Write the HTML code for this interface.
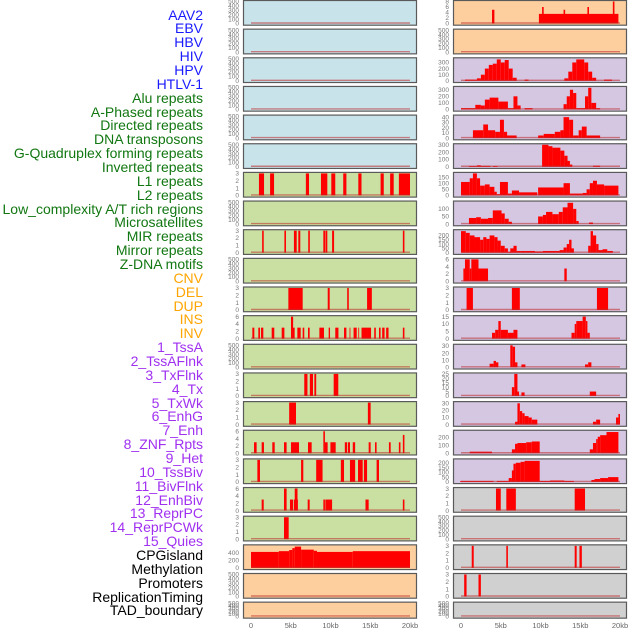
<!DOCTYPE html>
<html><head><meta charset="utf-8"><style>
html,body{margin:0;padding:0;background:#fff;}
body{width:630px;height:630px;position:relative;overflow:hidden;font-family:"Liberation Sans",sans-serif;}
.lab{position:absolute;right:427px;font-size:14px;line-height:14px;white-space:nowrap;}
</style></head><body>
<div id="labels"></div>
<svg id="chart" width="630" height="630" style="position:absolute;left:0;top:0"></svg>
<script>
const labelNames = ["AAV2","EBV","HBV","HIV","HPV","HTLV-1","Alu repeats","A-Phased repeats","Directed repeats","DNA transposons","G-Quadruplex forming repeats","Inverted repeats","L1 repeats","L2 repeats","Low_complexity A/T rich regions","Microsatellites","MIR repeats","Mirror repeats","Z-DNA motifs","CNV","DEL","DUP","INS","INV","1_TssA","2_TssAFlnk","3_TxFlnk","4_Tx","5_TxWk","6_EnhG","7_Enh","8_ZNF_Rpts","9_Het","10_TssBiv","11_BivFlnk","12_EnhBiv","13_ReprPC","14_ReprPCWk","15_Quies","CPGisland","Methylation","Promoters","ReplicationTiming","TAD_boundary"];
const labelGroups = ["v","v","v","v","v","v","r","r","r","r","r","r","r","r","r","r","r","r","r","s","s","s","s","s","c","c","c","c","c","c","c","c","c","c","c","c","c","c","c","o","o","o","o","o"];
const groupColors = {v:"#1a1aff",r:"#117711",s:"#ffa500",c:"#a030f0",o:"#000"};
const bgColors = {v:"#c8e3ea",r:"#c9e0a2",s:"#fdcf9e",c:"#d5c6e2",o:"#d0d0d0"};

// per-track segments: [startKb, endKb, value]
const segAlu = [[1.0,1.64,3],[2.4,2.9,3],[6.9,7.3,3],[8.8,9.6,3],[10.1,10.6,3],[11.6,12.0,3],[13.5,13.9,3],[16.3,16.7,3],[17.5,17.95,3],[18.6,20.0,3]];
const segDirected = [[1.4,1.6,3],[4.2,4.4,3],[5.4,5.75,3],[5.95,6.2,3],[7.2,7.4,3],[9.1,9.35,3],[9.4,9.6,3],[10.2,10.45,3],[19.1,19.3,3]];
const segGQuadL = [[4.7,6.5,3],[9.65,9.9,3],[12.1,12.3,3],[14.6,15.2,3]];
const segInvertedL = [[0.17,0.42,3],[0.92,1.13,3],[1.26,1.55,3],[2.6,2.93,3],[3.86,4.2,3],[5.03,5.3,6],[5.28,5.49,3],[5.83,6.25,3],[6.5,6.7,3],[7.17,7.38,3],[8.6,9.18,3],[9.77,9.94,3],[10.6,11.0,3],[11.7,12.0,3],[12.4,12.5,3],[12.9,13.3,3],[13.5,13.6,3],[13.9,15.1,3],[15.5,15.7,3],[16.1,16.3,3],[16.5,16.8,3],[17.0,17.3,3],[19.1,19.3,3]];
const segL2 = [[6.7,7.1,3],[7.4,7.8,3],[7.97,8.2,3],[10.4,10.98,3]];
const segLowC = [[4.8,5.66,3],[14.7,15.05,3]];
const segMicro = [[0.38,0.71,3],[1.34,1.63,3],[2.68,2.98,3],[4.15,4.48,3],[5.03,6.04,3],[7.17,7.63,3],[9.1,9.3,6],[9.3,9.64,3],[9.99,10.65,3],[11.8,12.1,3],[12.2,12.45,3],[12.8,13.1,3],[14.8,15.05,3],[15.6,15.8,3],[17.35,17.57,3],[18.6,18.8,3],[19.1,19.3,5]];
const segMIR = [[0.8,1.13,3],[6.3,6.58,3],[8.2,9.0,3],[11.3,11.7,3],[12.45,13.1,3],[13.46,14.05,3],[14.2,14.6,3],[15.8,16.1,3]];
const segMirror = [[1.34,1.6,3],[4.15,4.48,6],[4.9,5.3,3],[5.4,5.9,3],[5.5,5.85,6],[7.13,7.38,3],[9.1,9.3,3],[9.35,10.06,3],[9.99,10.2,3],[14.4,14.8,3],[19.1,19.3,3]];
const segZDNA = [[4.15,4.74,3]];
const segCNV = [[0,3.5,420],[3.5,4.8,440],[4.8,5.2,470],[5.2,5.5,520],[5.5,6.3,560],[6.3,7.9,480],[7.9,8.3,450],[8.3,12.8,420],[12.8,20,440]];
const segINS = [[3.9,4.2,5],[9.8,19.8,3.5],[10.2,10.4,6],[12.9,13.1,5],[15.9,16.1,6],[19.1,19.3,8]];
const segTssA = [[0.5,2,20],[2,2.5,40],[2.5,3,100],[3,3.5,200],[3.5,4,260],[4,4.5,280],[4.5,5,350],[5,5.5,300],[5.5,6,340],[6,6.5,200],[6.5,7,50],[8,8.5,20],[13,13.5,40],[13.5,14,150],[14,14.5,300],[14.5,15.5,350],[15.5,16,300],[16,16.5,150],[16.5,17,50],[18,19,20]];
const segTssAFlnk = [[0,1.8,20],[1.8,2.5,70],[2.5,3,60],[3,3.6,150],[3.6,4.7,180],[4.7,5.9,120],[5.9,6.6,20],[6.6,7.1,200],[7.1,7.5,60],[8,9,20],[12.9,13.3,80],[13.3,13.7,200],[13.7,14.1,300],[14.1,14.5,250],[14.5,15.6,20],[15.6,16,200],[16,16.4,330],[16.4,17,100],[17,17.5,20]];
const segTxFlnk = [[1.5,2.8,15],[2.8,3.4,26],[3.4,4.3,15],[4.3,4.9,12],[4.9,5.4,35],[5.4,5.8,12],[5.7,7.0,5],[9.7,10.4,5],[10.4,11.8,8],[11.8,12.5,12],[12.5,12.9,15],[12.9,13.6,40],[13.6,14.1,35],[14.1,14.8,5],[14.8,15.2,15],[15.2,15.8,22],[15.8,17.5,5]];
const segTx = [[1,2,10],[2,2.5,20],[2.5,3.7,12],[4,4.6,10],[10.2,11,300],[11,11.5,280],[11.5,12.5,260],[12.5,13,220],[13,13.4,150],[13.4,13.7,80],[13.7,14,30],[16.6,17.5,15]];
const segTxWk = [[0,1.1,110],[1.1,1.5,140],[1.5,2.0,180],[2.0,2.4,140],[2.4,3.0,80],[3.0,3.6,90],[3.6,4.2,70],[4.2,4.5,30],[4.5,4.9,10],[4.9,5.9,110],[5.9,6.4,15],[6.4,7.3,40],[7.3,9.6,25],[9.7,12.9,65],[12.9,13.7,100],[13.7,15.3,15],[15.3,15.8,20],[15.8,16.2,50],[16.2,16.6,100],[16.6,17.1,120],[17.1,18,90],[18,19.8,80]];
const segEnhG = [[1,1.9,40],[1.9,2.5,45],[2.5,3.4,35],[3.4,4.0,40],[4.0,5.1,90],[5.1,5.5,70],[5.5,6,35],[6,6.4,15],[9.7,10.3,50],[10.3,10.7,60],[10.7,11.5,80],[11.5,12.3,65],[12.3,12.8,80],[12.8,13.4,110],[13.4,14.1,140],[14.1,14.5,100],[14.5,14.8,20],[16.1,16.6,10]];
const segEnh = [[0,0.6,250],[0.6,1.1,230],[1.1,1.7,200],[1.7,2.4,180],[2.4,2.8,150],[2.8,3.2,180],[3.2,3.6,160],[3.6,4.2,200],[4.2,4.6,180],[4.6,5,140],[5,5.5,80],[5.5,5.9,50],[5.9,6.3,10],[6.2,6.6,50],[6.6,7.0,80],[7.0,7.5,20],[7.5,9.3,20],[9.3,10.3,15],[10.3,12.4,20],[12.4,12.9,30],[12.9,13.3,60],[13.3,13.6,100],[13.6,13.9,150],[13.9,14.2,50],[16.0,16.3,80],[16.3,16.6,250],[16.6,17,200],[17,17.3,100],[17.3,17.8,30],[17.8,18.4,40],[18.4,19.1,20]];
const segZNF = [[0.3,0.5,3.5],[0.5,1.1,6],[1.1,1.3,3.5],[1.3,2.2,6],[2.2,3.4,3.5],[13.0,13.3,3.5]];
const segHet = [[0.7,1.5,3],[6.4,7.4,3],[17.1,18.5,3]];
const segTssBiv = [[3.9,4.3,4],[4.3,4.7,6],[4.7,5.0,12],[5.0,5.9,6],[5.9,6.6,4],[6.6,7.1,6],[13.9,14.3,4],[14.3,14.5,10],[14.5,15.3,12],[15.3,15.7,15],[15.7,15.9,12],[15.9,16.2,4]];
const segBivFlnk = [[3.6,4.1,5],[4.1,4.4,9],[4.4,4.7,7],[6.2,6.5,31],[6.5,6.8,29],[6.8,7.1,7],[7.6,8.1,4],[15.6,16.0,4],[16.0,16.4,7]];
const segEnhBiv = [[6.4,6.7,10],[6.7,7.1,25],[7.1,7.3,5],[7.6,8.0,4],[16.2,17.0,5]];
const segReprPC = [[6.8,7.1,4],[7.1,7.4,30],[7.4,7.7,19],[7.7,8.0,16],[8.0,8.5,12],[8.5,8.9,10],[8.9,9.6,7],[16.6,17.0,4],[17.0,17.5,7],[19.5,19.8,10],[19.8,20,15]];
const segReprPCWk = [[1.1,3.9,20],[6.4,6.8,50],[6.8,7.1,120],[7.1,8.2,130],[8.2,8.9,140],[8.9,9.9,150],[16.2,16.6,50],[16.6,17.0,130],[17.0,17.2,180],[17.2,17.5,210],[17.5,18.3,230],[18.3,19.8,270]];
const segQuies = [[-0.1,4.1,10],[4.5,6,10],[6,6.4,40],[6.4,6.6,120],[6.6,6.9,190],[6.9,7.5,200],[7.5,8,210],[8,9.9,220],[9.9,11.2,10],[11.2,13,15],[13,14.2,10],[16.4,16.8,20],[16.8,17.5,30],[17.5,18.5,40],[18.5,19.8,50]];
const segCPG = [[4.4,5.0,3],[5.7,6.9,3],[14.3,15.6,3]];
const segPromoters = [[1.35,1.6,3],[5.7,5.9,3],[14.3,14.55,3],[14.9,15.2,3]];
const segReplication = [[0.4,0.7,3],[2.2,2.5,3]];

const t500=[0,100,200,300,400,500], t3=[0,1,2,3], t6=[0,2,4,6];
// track definitions: [segments, max, ticks]
const tracks = [
 [[],500,t500],[[],500,t500],[[],500,t500],[[],500,t500],[[],500,t500],[[],500,t500],
 [segAlu,3,t3],[[],500,t500],[segDirected,3,t3],[[],500,t500],[segGQuadL,3,t3],[segInvertedL,6,t6],
 [[],500,t500],[segL2,3,t3],[segLowC,3,t3],[segMicro,6,t6],[segMIR,3,t3],[segMirror,6,t6],[segZDNA,3,t3],
 [segCNV,580,[0,200,400]],[[],500,t500],[[],500,t500],
 [segINS,8,[0,2,4,6,8]],[[],500,t500],
 [segTssA,360,[0,100,200,300]],[segTssAFlnk,335,[0,100,200,300]],[segTxFlnk,42,[0,10,20,30,40]],
 [segTx,300,[0,100,200,300]],[segTxWk,180,[0,50,100,150]],[segEnhG,145,[0,50,100]],
 [segEnh,255,[0,50,100,150,200]],[segZNF,6,t6],[segHet,3,t3],[segTssBiv,15,[0,5,10,15]],
 [segBivFlnk,31,[0,10,20,30]],[segEnhBiv,25,[0,5,10,15,20,25]],[segReprPC,31,[0,10,20,30]],
 [segReprPCWk,280,[0,100,200]],[segQuies,230,[0,50,100,150,200]],
 [segCPG,3,t3],[[],500,t500],[segPromoters,3,t3],[segReplication,3,t3],[[],500,t500]
];
const xTicks = [0,5,10,15,20];
const xTickLabels = ["0","5kb","10kb","15kb","20kb"];

const NS="http://www.w3.org/2000/svg";
const svg=document.getElementById('chart');
function mk(tag,attrs,parent){const e=document.createElementNS(NS,tag);for(const k in attrs)e.setAttribute(k,attrs[k]);(parent||svg).appendChild(e);return e;}
const labelsDiv=document.getElementById('labels');
labelNames.forEach((n,i)=>{
  const d=document.createElement('div');d.className='lab';
  
  
  d.style.top=(15+13.86*i-7.5)+'px';d.style.color=groupColors[labelGroups[i]];d.textContent=n;labelsDiv.appendChild(d);
});
const cols=[{x0:243,x1:416,z:251},{x0:453,x1:626,z:461}];
const kbW=7.95;
tracks.forEach((t,i)=>{
  const col=cols[i<22?0:1], r=i%22;
  const top=r*28.65, h=(r===21)?16:24.7, bot=top+h;
  const g=mk('g',{});
  
  
  mk('rect',{x:col.x0+0.5,y:top+0.5,width:col.x1-col.x0,height:h,fill:bgColors[labelGroups[i]],stroke:'#5a5a5a','stroke-width':1.2},g);
  const y0=bot-1.2, y1=top+1.5;
  const ys=v=>y0-(v/t[1])*(y0-y1);
  const xs=kb=>col.z+kb*kbW;
  t[0].forEach(s=>{
    const b=mk('rect',{x:xs(s[0]),y:ys(s[2]),width:Math.max(0.8,xs(s[1])-xs(s[0])),height:y0-ys(s[2]),fill:'#ff0000'},g);
    
    
  });
  mk('line',{x1:xs(0),x2:xs(20),y1:y0-0.5,y2:y0-0.5,stroke:'rgba(190,40,40,0.55)','stroke-width':1.4},g);
  t[2].forEach(v=>{
    const tx=mk('text',{x:col.x0-4,y:ys(v)+2.2,'font-size':6.5,'text-anchor':'end',fill:'#777','font-family':'Liberation Sans, sans-serif'},g);
    
    
    tx.textContent=v;
  });
});
cols.forEach(col=>{
  xTicks.forEach((k,j)=>{
    const tx=mk('text',{x:col.z+k*kbW,y:628,'font-size':7.5,'text-anchor':'middle',fill:'#666','font-family':'Liberation Sans, sans-serif'});
    
    
    tx.textContent=xTickLabels[j];
  });
});
</script>
</body></html>
